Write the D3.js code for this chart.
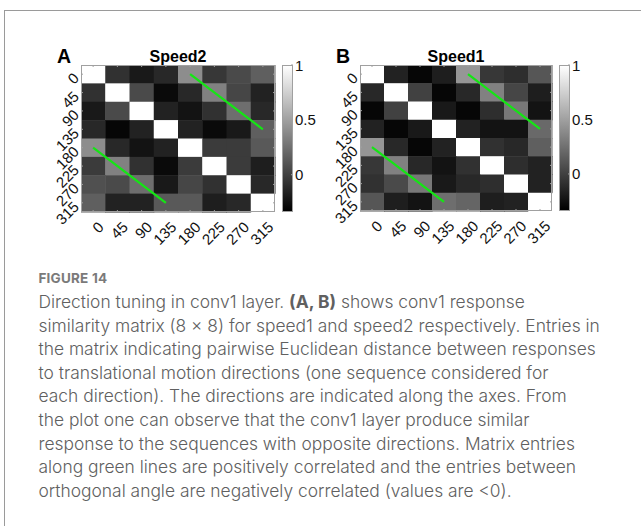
<!DOCTYPE html>
<html>
<head>
<meta charset="utf-8">
<script src="https://cdn.jsdelivr.net/npm/d3@7"></script>
<style>
  html, body { margin: 0; padding: 0; background: #fff; }
  svg { display: block; }
</style>
</head>
<body>
<script>
// Motion directions (degrees) used on both axes
const directions = [0, 45, 90, 135, 180, 225, 270, 315];

// Conv1 response similarity, speed2 (rows = direction, cols = direction)
const speed2 = [
  [ 1.00, -0.08, -0.21, -0.13,  0.40, -0.05,  0.05,  0.16],
  [-0.08,  1.00,  0.05, -0.29, -0.13,  0.34,  0.03, -0.16],
  [-0.21,  0.05,  1.00, -0.16, -0.24, -0.08,  0.24, -0.13],
  [-0.13, -0.31, -0.16,  1.00, -0.16, -0.29, -0.21,  0.16],
  [ 0.40, -0.13, -0.24, -0.16,  1.00, -0.03, -0.03,  0.13],
  [-0.03,  0.34, -0.08, -0.29, -0.03,  1.00, -0.03, -0.18],
  [ 0.08,  0.05,  0.24, -0.21,  0.03, -0.08,  1.00, -0.13],
  [ 0.16, -0.16, -0.16,  0.13,  0.13, -0.18, -0.13,  1.00]
];

// Conv1 response similarity, speed1
const speed1 = [
  [ 1.00, -0.16, -0.31, -0.18,  0.45, -0.05, -0.10,  0.11],
  [-0.13,  1.00,  0.00, -0.31, -0.13,  0.34,  0.03, -0.18],
  [-0.31,  0.00,  1.00, -0.21, -0.31, -0.10,  0.29, -0.24],
  [-0.16, -0.31, -0.21,  1.00, -0.16, -0.24, -0.24,  0.21],
  [ 0.45, -0.13, -0.31, -0.16,  1.00, -0.08, -0.13,  0.16],
  [-0.05,  0.34, -0.13, -0.24, -0.08,  1.00, -0.10, -0.16],
  [-0.08,  0.05,  0.29, -0.21, -0.13, -0.10,  1.00, -0.16],
  [ 0.11, -0.18, -0.24,  0.24,  0.19, -0.18, -0.16,  1.00]
];

// Colour scale limits and colorbar ticks
const colorDomain = [-0.34, 1];
const colorTicks = [0, 0.5, 1];

// Opposite-direction diagonals, as [column direction, row direction] endpoints
const greenLines = [
  [[180, 0], [315, 135]],
  [[0, 180], [135, 315]]
];

const captionHead = "FIGURE 14";
const captionLines = [
  [["Direction tuning in conv1 layer. ", false], ["(A, B)", true], [" shows conv1 response", false]],
  [["similarity matrix (8 \u00d7 8) for speed1 and speed2 respectively. Entries in", false]],
  [["the matrix indicating pairwise Euclidean distance between responses", false]],
  [["to translational motion directions (one sequence considered for", false]],
  [["each direction). The directions are indicated along the axes. From", false]],
  [["the plot one can observe that the conv1 layer produce similar", false]],
  [["response to the sequences with opposite directions. Matrix entries", false]],
  [["along green lines are positively correlated and the entries between", false]],
  [["orthogonal angle are negatively correlated (values are <0).", false]]
];

const W = 641, H = 526;
const svg = d3.select("body").append("svg").attr("width", W).attr("height", H);

// figure frame
svg.append("rect")
  .attr("x", 4.5).attr("y", 10.5).attr("width", 700).attr("height", 600)
  .attr("fill", "none").attr("stroke", "#9a9a9a").attr("stroke-width", 1);

const color = d3.scaleLinear().domain(colorDomain).range(["#000", "#fff"]).clamp(true);
const axisFont = "Liberation Sans, Arial, Helvetica, sans-serif";

const panels = [
  { letter: "A", title: "Speed2", data: speed2, left: 81, top: 65, width: 194, height: 147, cbX: 282 },
  { letter: "B", title: "Speed1", data: speed1, left: 360, top: 65, width: 192, height: 146, cbX: 559 }
];

panels.forEach(p => {
  const g = svg.append("g");
  const x = d3.scaleBand().domain(directions).range([p.left, p.left + p.width]);
  const y = d3.scaleBand().domain(directions).range([p.top, p.top + p.height]);

  // matrix cells
  const cells = [];
  p.data.forEach((row, i) => row.forEach((v, j) => cells.push({ r: directions[i], c: directions[j], v })));
  g.selectAll("rect.cell").data(cells).join("rect")
    .attr("class", "cell")
    .attr("x", d => x(d.c)).attr("y", d => y(d.r))
    .attr("width", x.bandwidth() + 0.5).attr("height", y.bandwidth() + 0.5)
    .attr("fill", d => color(d.v));

  // box and inward ticks
  g.append("rect")
    .attr("x", p.left + 0.5).attr("y", p.top + 0.5)
    .attr("width", p.width - 1).attr("height", p.height - 1)
    .attr("fill", "none").attr("stroke", "#a0a0a0").attr("stroke-width", 1);
  const tk = g.append("g").attr("stroke", "#a0a0a0").attr("stroke-width", 1);
  directions.forEach(d => {
    const cx = x(d) + x.bandwidth() / 2, cy = y(d) + y.bandwidth() / 2;
    tk.append("line").attr("x1", cx).attr("x2", cx).attr("y1", p.top).attr("y2", p.top + 2);
    tk.append("line").attr("x1", cx).attr("x2", cx).attr("y1", p.top + p.height).attr("y2", p.top + p.height - 2);
    tk.append("line").attr("y1", cy).attr("y2", cy).attr("x1", p.left).attr("x2", p.left + 2);
    tk.append("line").attr("y1", cy).attr("y2", cy).attr("x1", p.left + p.width).attr("x2", p.left + p.width - 2);
  });

  // green diagonals
  g.selectAll("line.diag").data(greenLines).join("line")
    .attr("class", "diag")
    .attr("x1", d => x(d[0][0]) + x.bandwidth() / 2)
    .attr("y1", d => y(d[0][1]) + y.bandwidth() / 2)
    .attr("x2", d => x(d[1][0]) + x.bandwidth() / 2)
    .attr("y2", d => y(d[1][1]) + y.bandwidth() / 2)
    .attr("stroke", "#14e614").attr("stroke-width", 2.2);

  // rotated tick labels
  g.selectAll("text.ylab").data(directions).join("text")
    .attr("class", "ylab")
    .attr("transform", d => `translate(${p.left - 1},${y(d) + y.bandwidth() / 2 + 5}) rotate(-45)`)
    .attr("text-anchor", "end")
    .attr("font-family", axisFont).attr("font-size", 15).attr("fill", "#111")
    .text(d => d);
  g.selectAll("text.xlab").data(directions).join("text")
    .attr("class", "xlab")
    .attr("transform", d => `translate(${x(d) + x.bandwidth() / 2 + 11.5},${p.top + p.height + 16}) rotate(-45)`)
    .attr("text-anchor", "end")
    .attr("font-family", axisFont).attr("font-size", 15).attr("fill", "#111")
    .text(d => d);

  // title and panel letter
  g.append("text")
    .attr("x", p.left + p.width / 2).attr("y", 61.5)
    .attr("text-anchor", "middle")
    .attr("font-family", axisFont).attr("font-size", 16).attr("font-weight", "bold")
    .text(p.title);
  g.append("text")
    .attr("x", p.left - 24).attr("y", 63)
    .attr("font-family", axisFont).attr("font-size", 19.5).attr("font-weight", "bold")
    .text(p.letter);

  // colorbar
  const cbY = d3.scaleLinear().domain(colorDomain).range([p.top + p.height, p.top]);
  const gid = "grad" + p.letter;
  const grad = svg.append("defs").append("linearGradient")
    .attr("id", gid).attr("x1", 0).attr("y1", 1).attr("x2", 0).attr("y2", 0);
  grad.append("stop").attr("offset", 0).attr("stop-color", color(colorDomain[0]));
  grad.append("stop").attr("offset", 1).attr("stop-color", color(colorDomain[1]));
  g.append("rect")
    .attr("x", p.cbX + 0.5).attr("y", p.top + 0.5)
    .attr("width", 10).attr("height", p.height - 1)
    .attr("fill", `url(#${gid})`).attr("stroke", "#a0a0a0").attr("stroke-width", 1);
  g.selectAll("line.cbt").data(colorTicks).join("line")
    .attr("class", "cbt")
    .attr("x1", p.cbX + 9).attr("x2", p.cbX + 11)
    .attr("y1", d => cbY(d)).attr("y2", d => cbY(d))
    .attr("stroke", "#a0a0a0");
  g.selectAll("text.cbl").data(colorTicks).join("text")
    .attr("class", "cbl")
    .attr("x", p.cbX + 13).attr("y", d => cbY(d) + 5.5)
    .attr("font-family", axisFont).attr("font-size", 15).attr("fill", "#111")
    .text(d => d);
});

// caption
const capFont = "Inter, 'Open Sans', Lato, sans-serif";
svg.append("text")
  .attr("x", 38.5).attr("y", 283)
  .attr("font-family", capFont).attr("font-size", 13.5).attr("font-weight", "bold")
  .attr("fill", "#7a7a7a").attr("letter-spacing", 0.2)
  .text(captionHead);
const cap = svg.append("g");
captionLines.forEach((parts, i) => {
  const t = cap.append("text")
    .attr("x", 38.5).attr("y", 308 + i * 23.6)
    .attr("font-family", capFont).attr("font-size", 17.4).attr("font-weight", 300)
    .attr("fill", "#606060");
  parts.forEach(([s, b]) => t.append("tspan").attr("font-weight", b ? "bold" : 300).text(s));
});
</script>
</body>
</html>
